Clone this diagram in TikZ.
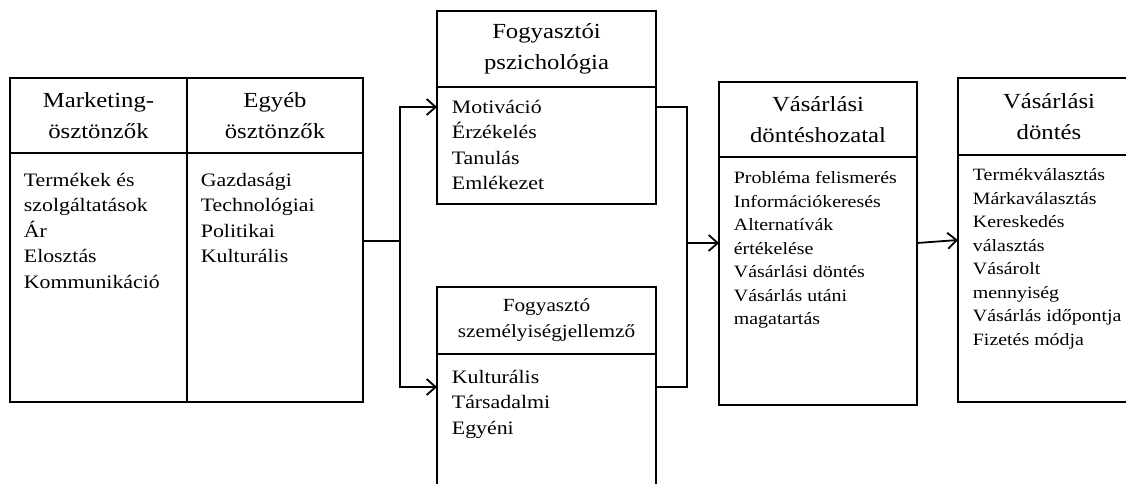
\documentclass[tikz,border=0pt]{standalone}
\usepackage{fontspec}
\setmainfont{Liberation Serif}[FakeStretch=1.15]
\usetikzlibrary{arrows.meta, positioning}

\begin{document}
\begin{tikzpicture}[x=1pt,y=-1pt,line width=1.8pt,>={Straight Barb[length=9pt,width=16pt]}]

\tikzset{hdr/.style={draw, rectangle, outer sep=0pt, inner sep=0pt, align=center,
                     font=\fontsize{21.5}{31}\selectfont},
         frame/.style={draw, rectangle, outer sep=0pt, inner sep=0pt},
         items/.style={anchor=north west, inner sep=0pt, align=left,
                       font=\fontsize{19}{25.5}\selectfont},
         smallitems/.style={items, font=\fontsize{17.3}{23.5}\selectfont}}

\useasboundingbox (0,0) rectangle (1126,483);

% stimuli
\node[hdr, minimum width=177, minimum height=75, anchor=north west] (mkth) at (10,78) {Marketing-\\ösztönzők};
\node[hdr, minimum width=176, minimum height=75, right=0pt of mkth] (egyh) {Egyéb\\ösztönzők};
\node[frame, minimum width=177, minimum height=249, below=0pt of mkth] (mktb) {};
\node[frame, minimum width=176, minimum height=249, below=0pt of egyh] (egyb) {};
\node[items] (mktl) at ([xshift=13pt,yshift=-14.5pt]mktb.north west) {\strut Termékek és\\szolgáltatások\\Ár\\Elosztás\\Kommunikáció};
\node[items] (egyl) at ([xshift=13pt,yshift=-14.5pt]egyb.north west) {\strut Gazdasági\\Technológiai\\Politikai\\Kulturális};

% buyer
\node[hdr, minimum width=219, minimum height=76, anchor=north west] (psyh) at (437,11) {Fogyasztói\\pszichológia};
\node[frame, minimum width=219, minimum height=117, below=0pt of psyh] (psyb) {};
\node[items] (psyl) at ([xshift=14pt,yshift=-7.5pt]psyb.north west) {\strut Motiváció\\Érzékelés\\Tanulás\\Emlékezet};

\node[hdr, minimum width=219, minimum height=67, anchor=north west,
      font=\fontsize{18.5}{26}\selectfont] (pszh) at (437,287) {Fogyasztó\\személyiségjellemző};
\node[frame, minimum width=219, minimum height=160, below=0pt of pszh] (pszb) {};
\node[items] (pszl) at ([xshift=14pt,yshift=-10.5pt]pszb.north west) {\strut Kulturális\\Társadalmi\\Egyéni};

% decision
\node[hdr, minimum width=198, minimum height=75, anchor=north west] (donh) at (719,82) {Vásárlási\\döntéshozatal};
\node[frame, minimum width=198, minimum height=248, below=0pt of donh] (donb) {};
\node[smallitems] (donl) at ([xshift=14pt,yshift=-9.5pt]donb.north west) {\strut Probléma felismerés\\Információkeresés\\Alternatívák\\értékelése\\Vásárlási döntés\\Vásárlás utáni\\magatartás};

\node[hdr, minimum width=182, minimum height=77, anchor=north west] (vdh) at (958,78) {Vásárlási\\döntés};
\node[frame, minimum width=182, minimum height=247, below=0pt of vdh] (vdb) {};
\node[smallitems] (vdl) at ([xshift=14pt,yshift=-8.5pt]vdb.north west) {\strut Termékválasztás\\Márkaválasztás\\Kereskedés\\választás\\Vásárolt\\mennyiség\\Vásárlás időpontja\\Fizetés módja};

% connectors
\coordinate (split) at (400,241);
\coordinate (join) at (687,243);
\draw (egyb.east |- split) -- (split);
\draw[->] (split) |- ([yshift=-20pt]psyb.north west);
\draw[->] (split) |- ([yshift=-33pt]pszb.north west);
\draw ([yshift=-20pt]psyb.north east) -| (join) |- ([yshift=-33pt]pszb.north east);
\draw[->] (join) -- (join -| donb.west);
\draw[->] ([yshift=-86pt]donb.north east) -- ([yshift=-85pt]vdb.north west);
\end{tikzpicture}
\end{document}
